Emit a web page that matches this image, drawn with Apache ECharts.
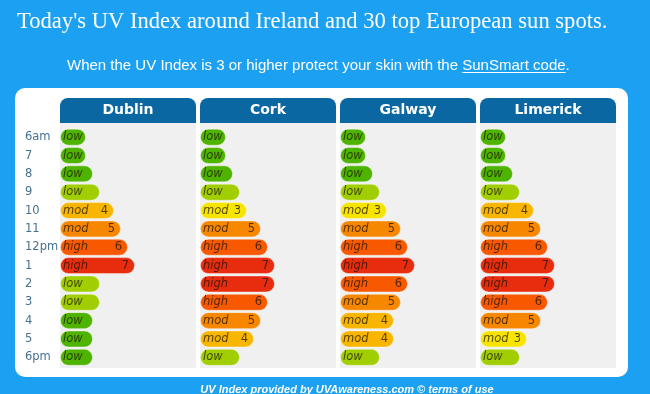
<!DOCTYPE html>
<html>
<head>
<meta charset="utf-8">
<script src="https://cdn.jsdelivr.net/npm/echarts@6/dist/echarts.min.js"></script>
<style>
html,body{margin:0;padding:0;background:#1ba0f2;}
#c{width:650px;height:394px;}
</style>
</head>
<body>
<div id="c"></div>
<script>
// ---- data ----
var hours = ['6am','7','8','9','10','11','12pm','1','2','3','4','5','6pm'];
var cities = ['Dublin','Cork','Galway','Limerick'];
var dublin   = [0,0,1,2,4,5,6,7,2,2,1,1,1];
var cork     = [0,0,1,2,3,5,6,7,7,6,5,4,2];
var galway   = [0,0,1,2,3,5,6,7,6,5,4,4,2];
var limerick = [0,0,1,2,4,5,6,7,7,6,5,3,2];
var cityValues = [dublin, cork, galway, limerick];
var levelNames = ['low','low','low','mod','mod','mod','high','high','high','v.high','v.high','extreme'];
var uvColors = ['#4eb400','#4eb400','#a0ce00','#f7e400','#f8b600','#f88700','#f85900','#e82c0e','#d8001d'];

var titleText = "Today's UV Index around Ireland and 30 top European sun spots.";
var subPrefix = 'When the UV Index is 3 or higher protect your skin with the ';
var subLink = 'SunSmart code';
var subSuffix = '.';
var footerText = 'UV Index provided by UVAwareness.com \u00A9 terms of use';

// ---- layout ----
var colLeft = [60, 200, 340, 480];
var colW = 136;
var gridTop = 128, gridH = 238.5;
var PX_PER_UV = 7, BASE_PX = 26;
var axMin = -BASE_PX / PX_PER_UV;
var axMax = axMin + colW / PX_PER_UV;

var subFont = '15px "Liberation Sans"';
var subLeft = 67;
var ctx = document.createElement('canvas').getContext('2d');
ctx.font = subFont;
var preW = ctx.measureText(subPrefix).width;
var linkW = ctx.measureText(subLink).width;

var chart = echarts.init(document.getElementById('c'));
var grids = [], xAxes = [], yAxes = [], series = [], graphics = [];

// white panel
graphics.push({type:'rect', shape:{x:15,y:88,width:613,height:289,r:10}, style:{fill:'#ffffff'}, z:-10});

cities.forEach(function(name, i){
  var left = colLeft[i];
  graphics.push({type:'rect', shape:{x:left,y:123,width:colW,height:245}, style:{fill:'#f0f0f0'}, z:-5});
  graphics.push({type:'rect', shape:{x:left,y:98,width:colW,height:25,r:[8,8,0,0]}, style:{fill:'#0b67a2'}, z:-5});
  graphics.push({type:'text', x:left+colW/2, y:110.5, style:{text:name, fill:'#ffffff', font:'bold 14px "DejaVu Sans"', align:'center', verticalAlign:'middle'}, z:-4});

  grids.push({left:left, top:gridTop, width:colW, height:gridH, containLabel:false});
  xAxes.push({type:'value', gridIndex:i, min:axMin, max:axMax, startValue:axMin, show:false});
  yAxes.push({type:'category', gridIndex:i, data:hours, inverse:true,
    axisLine:{show:false}, axisTick:{show:false}, splitLine:{show:false},
    axisLabel:{show:i===0, align:'left', margin:35, color:'#46718f', fontSize:11.5, fontFamily:'DejaVu Sans'}});

  var vals = cityValues[i];
  series.push({
    type:'bar', xAxisIndex:i, yAxisIndex:i, barWidth:17, barGap:'-100%',
    data: vals.map(function(v){ return {value:v, itemStyle:{color:uvColors[v]}}; }),
    itemStyle:{borderRadius:8.5, borderColor:'rgba(255,255,255,0.4)', borderWidth:1},
    label:{show:true, position:'insideLeft', distance:3, formatter:function(p){return levelNames[p.value];},
      fontStyle:'italic', fontSize:11.5, fontFamily:'DejaVu Sans', color:'rgba(30,20,0,0.75)'},
    silent:true, animation:false
  });
  series.push({
    type:'bar', xAxisIndex:i, yAxisIndex:i, barWidth:17, barGap:'-100%',
    data: vals.slice(),
    itemStyle:{color:'rgba(0,0,0,0)'},
    label:{show:true, position:'insideRight', distance:6, formatter:function(p){return p.value>=3 ? String(p.value) : '';},
      fontSize:11.5, fontFamily:'DejaVu Sans', color:'rgba(30,20,0,0.75)'},
    silent:true, animation:false
  });
});

// subtitle text + underline for link part
graphics.push({type:'text', x:subLeft, y:66, style:{text:subPrefix + subLink + subSuffix, fill:'#ffffff', font:subFont, align:'left', verticalAlign:'middle'}});
graphics.push({type:'line', shape:{x1:subLeft+preW, y1:72.5, x2:subLeft+preW+linkW, y2:72.5}, style:{stroke:'#ffffff', lineWidth:1}});

chart.setOption({
  backgroundColor:'#1ba0f2',
  animation:false,
  title:[
    {text:titleText, left:12, top:6,
      textStyle:{color:'#ffffff', fontFamily:'Liberation Serif', fontWeight:'normal', fontSize:22.6}},
    {text:footerText, left:342, textAlign:'center', top:379,
      textStyle:{color:'#ffffff', fontFamily:'Liberation Sans', fontStyle:'italic', fontWeight:'bold', fontSize:11}}
  ],
  graphic: graphics,
  grid: grids,
  xAxis: xAxes,
  yAxis: yAxes,
  series: series
});
</script>
</body>
</html>
